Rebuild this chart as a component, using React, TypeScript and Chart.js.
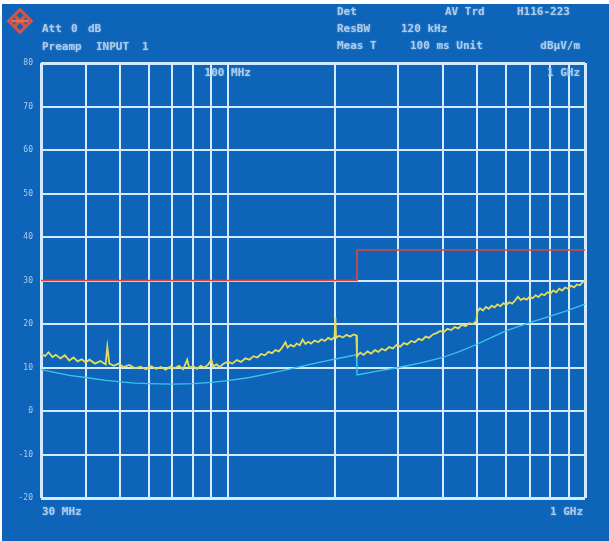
import { useEffect, useRef } from "react";
import { Chart, registerables } from "chart.js";

Chart.register(...registerables);

// ---- data ----
const gridFreqMHz = [30, 40, 50, 60, 70, 80, 90, 100, 200, 300, 400, 500, 600, 700, 800, 900, 1000];
const levelTicks = [-20, -10, 0, 10, 20, 30, 40, 50, 60, 70, 80];

const limitFreqMHz = [30, 230, 230, 1000];
const limitLevel = [30, 30, 37, 37];

const avgFreqMHz = [30, 33, 36, 40, 45, 50, 55, 60, 70, 80, 90, 100, 115, 130, 150, 170, 190, 210, 229, 230, 260, 300, 350, 400, 450, 500, 550, 600, 650, 700, 800, 900, 1000];
const avgLevel = [9.5, 8.8, 8.2, 7.7, 7.1, 6.7, 6.4, 6.3, 6.2, 6.3, 6.6, 7.0, 7.7, 8.6, 9.7, 10.7, 11.6, 12.3, 12.9, 8.3, 9.1, 10.0, 11.1, 12.3, 13.8, 15.4, 17.0, 18.4, 19.4, 20.3, 21.8, 23.2, 24.6];

const peakFreqMHz = [
  30, 30.8, 31.5, 32.3, 33, 34, 35, 36, 37, 38, 39, 40, 41, 42.5, 44, 45.5, 46, 46.6, 48, 49.5,
  51, 53, 55, 57, 59, 61, 63, 65, 67, 69, 71, 73, 75, 77, 78, 80, 82, 84, 86, 88,
  90, 91, 93, 95, 97, 100, 103, 106, 109, 112, 115, 118, 121, 124, 127, 130, 133, 136, 139, 142,
  145, 147, 150, 153, 156, 159, 162, 165, 168, 171, 175, 179, 183, 187, 191, 195, 199, 200, 201, 205,
  210, 215, 220, 225, 229, 230, 235, 240, 246, 252, 258, 264, 270, 276, 283, 290, 297, 304, 311, 318,
  326, 334, 342, 350, 358, 366, 375, 384, 393, 402, 412, 422, 432, 442, 452, 463, 474, 485, 496, 500,
  508, 518, 528, 538, 548, 558, 569, 580, 591, 602, 613, 625, 637, 649, 661, 674, 687, 700, 713, 727,
  741, 755, 770, 785, 800, 815, 831, 847, 863, 880, 897, 914, 932, 950, 968, 985, 1000,
];
const peakLevel = [
  13.2, 12.6, 13.5, 12.4, 12.9, 12.1, 12.8, 11.6, 12.3, 11.4, 11.9, 11.2, 11.8, 10.9, 11.5, 10.7, 14.8, 10.9, 10.4, 10.9,
  10.1, 10.6, 9.8, 10.2, 9.6, 10.3, 9.7, 10.1, 9.5, 10.2, 9.8, 10.4, 9.6, 11.8, 9.9, 10.3, 9.7, 10.4, 10.0, 10.6,
  11.9, 10.2, 10.7, 10.1, 10.8, 11.3, 10.9, 11.7, 11.3, 12.1, 11.8, 12.6, 12.3, 13.1, 12.8, 13.6, 13.3, 14.0, 13.7, 14.6,
  15.8, 14.6, 15.2, 14.8, 15.5, 15.1, 16.4, 15.4, 15.9, 15.5, 16.2, 15.8, 16.5, 16.1, 16.8, 16.4, 17.0, 21.6, 16.8, 17.3,
  16.9, 17.5, 17.1, 17.6, 17.4, 12.6, 13.4, 12.9, 13.7, 13.2, 14.0, 13.6, 14.3, 13.9, 14.7, 14.4, 15.2, 14.8, 15.6, 15.3,
  16.1, 15.8, 16.6, 16.3, 17.1, 16.8, 17.6, 17.9, 18.4, 18.1, 18.9, 18.6, 19.3, 19.0, 19.8, 19.5, 20.2, 20.0, 20.6, 22.9,
  23.6, 23.1, 23.9, 23.5, 24.2, 23.8, 24.5, 24.1, 24.8, 24.4, 25.0, 24.7, 25.4, 26.3, 25.5, 25.9, 25.6, 26.3, 25.9, 26.6,
  26.2, 26.9, 26.6, 27.3, 27.0, 27.7, 27.3, 28.1, 27.7, 28.4, 28.1, 28.8, 28.4, 29.1, 28.9, 29.6, 29.9,
];

const headerLeftLabels = ["Att", "0", "dB"];
const headerLeft2Labels = ["Preamp", "INPUT", "1"];
const headerRightLabels = ["Det", "AV Trd", "H116-223", "ResBW", "120 kHz", "Meas T", "100 ms Unit", "dB\u00b5V/m"];
const axisLabels = ["30 MHz", "1 GHz", "100 MHz", "1 GHz"];

// ---- styles ----
const BLUE = "rgb(14, 100, 184)";
const GRID = "rgb(212, 234, 255)";
const TEXT = "rgb(172, 204, 238)";
const YELLOW = "rgb(228, 220, 92)";
const CYAN = "rgb(60, 196, 232)";
const RED = "rgb(222, 72, 58)";
const MONO = "'DejaVu Sans Mono', 'Liberation Mono', monospace";

const backgroundPlugin = {
  id: "bgPanel",
  beforeDraw(chart: any) {
    const { ctx, width, height } = chart;
    ctx.save();
    ctx.fillStyle = "#ffffff";
    ctx.fillRect(0, 0, width, height);
    ctx.fillStyle = BLUE;
    ctx.fillRect(2, 4, width - 2, height - 4);
    // logo
    ctx.translate(20, 21);
    ctx.rotate(Math.PI / 4);
    ctx.strokeStyle = "rgb(214, 84, 70)";
    ctx.lineWidth = 3;
    ctx.strokeRect(-8, -8, 16, 16);
    ctx.beginPath();
    ctx.moveTo(-8, 0);
    ctx.lineTo(8, 0);
    ctx.moveTo(0, -8);
    ctx.lineTo(0, 8);
    ctx.stroke();
    ctx.strokeStyle = "rgb(240, 110, 70)";
    ctx.lineWidth = 2.5;
    ctx.beginPath();
    ctx.moveTo(-6, 6);
    ctx.lineTo(6, -6);
    ctx.stroke();
    ctx.restore();
  },
};

const textPlugin = {
  id: "analyzerText",
  afterDraw(chart: any) {
    const { ctx, chartArea } = chart;
    const xs = chart.scales.x;
    ctx.save();
    ctx.fillStyle = TEXT;
    ctx.shadowColor = "rgba(172, 204, 238, 0.6)";
    ctx.shadowBlur = 2;
    ctx.font = `bold 11px ${MONO}`;
    ctx.textBaseline = "middle";
    ctx.textAlign = "left";
    // header left
    ctx.fillText(headerLeftLabels[0], 42, 29);
    ctx.fillText(headerLeftLabels[1], 71, 29);
    ctx.fillText(headerLeftLabels[2], 88, 29);
    ctx.fillText(headerLeft2Labels[0], 42, 47);
    ctx.fillText(headerLeft2Labels[1], 96, 47);
    ctx.fillText(headerLeft2Labels[2], 142, 47);
    // header right
    ctx.fillText(headerRightLabels[0], 337, 12);
    ctx.fillText(headerRightLabels[1], 445, 12);
    ctx.fillText(headerRightLabels[2], 517, 12);
    ctx.fillText(headerRightLabels[3], 337, 29);
    ctx.fillText(headerRightLabels[4], 401, 29);
    ctx.fillText(headerRightLabels[5], 337, 46);
    ctx.fillText(headerRightLabels[6], 410, 46);
    ctx.textAlign = "right";
    ctx.fillText(headerRightLabels[7], 580, 46);
    // axis labels
    ctx.textAlign = "left";
    ctx.fillText(axisLabels[0], chartArea.left + 1, chartArea.bottom + 14);
    ctx.textAlign = "right";
    ctx.fillText(axisLabels[1], chartArea.right - 2, chartArea.bottom + 14);
    ctx.textAlign = "center";
    ctx.fillText(axisLabels[2], xs.getPixelForValue(100), chartArea.top + 10);
    ctx.textAlign = "right";
    ctx.fillText(axisLabels[3], chartArea.right - 5, chartArea.top + 10);
    ctx.restore();
  },
};

export default function App() {
  const ref = useRef<HTMLCanvasElement | null>(null);

  useEffect(() => {
    document.body.style.margin = "0";
    const canvas = ref.current;
    if (!canvas) return;
    const edgeWidth = (v: number, lo: number, hi: number) => (v === lo || v === hi ? 3 : 2);
    const chart = new Chart(canvas, {
      type: "line",
      data: {
        datasets: [
          {
            label: "Limit",
            data: limitFreqMHz.map((f, i) => ({ x: f, y: limitLevel[i] })),
            borderColor: RED,
            borderWidth: 1.6,
            pointRadius: 0,
            tension: 0,
          },
          {
            label: "Peak",
            data: peakFreqMHz.map((f, i) => ({ x: f, y: peakLevel[i] })),
            borderColor: YELLOW,
            borderWidth: 1.8,
            pointRadius: 0,
            tension: 0,
          },
          {
            label: "Average",
            data: avgFreqMHz.map((f, i) => ({ x: f, y: avgLevel[i] })),
            borderColor: CYAN,
            borderWidth: 1.3,
            pointRadius: 0,
            tension: 0,
          },
        ],
      },
      options: {
        animation: false,
        responsive: false,
        events: [],
        layout: { padding: { left: 0, right: 24, top: 63, bottom: 43 } },
        plugins: {
          legend: { display: false },
          tooltip: { enabled: false },
        },
        scales: {
          x: {
            type: "logarithmic",
            min: 30,
            max: 1000,
            afterBuildTicks: (s: any) => {
              s.ticks = gridFreqMHz.map((v) => ({ value: v }));
            },
            afterFit: (s: any) => {
              s.height = 0;
            },
            ticks: { display: false },
            grid: {
              color: GRID,
              drawTicks: false,
              lineWidth: (c: any) => edgeWidth(c.tick?.value, 30, 1000),
            },
            border: { display: false },
          },
          y: {
            type: "linear",
            min: -20,
            max: 80,
            afterBuildTicks: (s: any) => {
              s.ticks = levelTicks.map((v) => ({ value: v }));
            },
            afterFit: (s: any) => {
              s.width = 41;
            },
            ticks: {
              color: TEXT,
              padding: 8,
              font: { family: MONO, size: 8 },
            },
            grid: {
              color: GRID,
              drawTicks: false,
              lineWidth: (c: any) => edgeWidth(c.tick?.value, -20, 80),
            },
            border: { display: false },
          },
        },
      },
      plugins: [backgroundPlugin, textPlugin],
    } as any);
    return () => chart.destroy();
  }, []);

  return (
    <div style={{ width: 609, height: 541 }}>
      <canvas ref={ref} width={609} height={541} style={{ display: "block", width: 609, height: 541 }} />
    </div>
  );
}
